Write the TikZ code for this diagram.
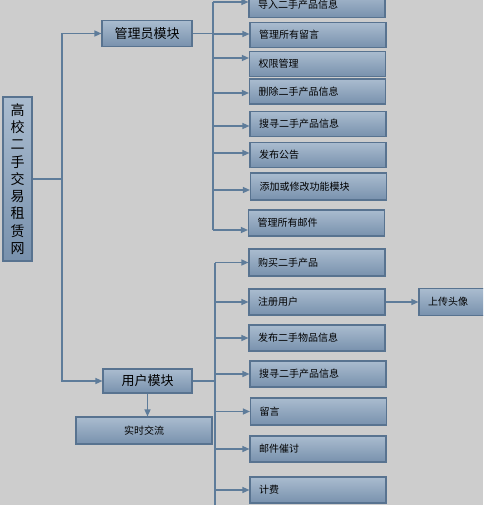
\documentclass[tikz,border=0pt]{standalone}
\usepackage{fontspec}
\setmainfont{Noto Sans CJK SC}
\usetikzlibrary{arrows.meta}
\definecolor{bggray}{HTML}{CDCDCD}
\definecolor{boxtop}{HTML}{AABCCF}
\definecolor{boxbot}{HTML}{7891AD}
\definecolor{boxedge}{HTML}{587390}
\definecolor{linkblue}{HTML}{5E7C9A}

\tikzset{
  box/.style={draw=boxedge, line width=1.1pt, top color=boxtop, bottom color=boxbot, text=black, inner sep=0pt},
  leaf/.style={box, minimum width=136pt, minimum height=25pt, text width=118pt, align=left, font=\fontsize{10}{12}\selectfont},
  module/.style={box, minimum height=26pt, font=\fontsize{13}{15}\selectfont},
  link/.style={linkblue, line width=1.3pt},
  arr/.style={link, -{Triangle[length=7pt, width=6pt]}}
}

\begin{document}
\begin{tikzpicture}[x=1pt, y=-1pt]

% Background
\useasboundingbox (0,0) rectangle (483,505);
\fill[bggray] (0,0) rectangle (483,505);
\clip (0,0) rectangle (483,505);

% Root and the two modules
\node[box, minimum width=29pt, minimum height=164pt, align=center,
      font=\fontsize{14}{17.25}\selectfont] (root) at (17.5,179)
  {高\\校\\二\\手\\交\\易\\租\\赁\\网};
\node[module, minimum width=90pt] (admin) at (147,33.5) {管理员模块};
\node[module, minimum width=89pt, minimum height=24pt] (user) at (147.5,381) {用户模块};
\node[leaf, minimum height=27pt, text width=136pt, align=center] (chat) at (144,430.5) {实时交流};

% Admin functions
\node[leaf] (a1) at (317,5) {导入二手产品信息};
\node[leaf] (a2) at (318,35) {管理所有留言};
\node[leaf] (a3) at (317.5,64) {权限管理};
\node[leaf] (a4) at (317.5,91.5) {删除二手产品信息};
\node[leaf] (a5) at (318,124) {搜寻二手产品信息};
\node[leaf] (a6) at (318,155) {发布公告};
\node[leaf, minimum height=27pt] (a7) at (318.5,186.5) {添加或修改功能模块};
\node[leaf, minimum height=26pt] (a8) at (316.5,223) {管理所有邮件};

% User functions
\node[leaf, minimum height=27pt] (u1) at (317,262.5) {购买二手产品};
\node[leaf, minimum height=26pt] (u2) at (317,302) {注册用户};
\node[leaf, minimum height=26pt] (u3) at (317,338) {发布二手物品信息};
\node[leaf, minimum height=26pt] (u4) at (318,374) {搜寻二手产品信息};
\node[leaf, minimum height=27pt] (u5) at (318.5,411.5) {留言};
\node[leaf, minimum height=26pt] (u6) at (318,449) {邮件催讨};
\node[leaf, minimum height=26pt] (u7) at (318,490) {计费};
\node[leaf, minimum width=66pt, minimum height=27pt, text width=48pt] (avatar) at (452,302) {上传头像};

% Trunks
\coordinate (tr) at (62,0);
\coordinate (atr) at (213,0);
\coordinate (utr) at (215,0);
\coordinate (ubot) at (215,510);

% Root to modules
\draw[link] (root.east) -- (root.east -| tr);
\draw[arr] (root.east -| tr) |- (admin.west);
\draw[arr] (root.east -| tr) |- (user.west);

% Admin module to its functions
\draw[link] (admin.east) -- (admin.east -| atr);
\foreach \n/\s in {a1/3, a2/1, a3/6, a4/-1.5, a5/-2, a6/2, a7/-3.5, a8/-7} {
  \coordinate (\n p) at ([yshift=\s pt]\n.west);
  \draw[arr] (atr |- \n p) -- (\n p);
}
\draw[link] (atr |- a1p) -- (atr |- a8p);

% User module to its functions
\draw[link] (user.east) -- (user.east -| utr);
\draw[link] (utr |- u1.west) -- (ubot);
\foreach \n in {u1,u2,u3,u4,u5,u6,u7}
  \draw[arr] (utr |- \n.west) -- (\n.west);
\draw[arr] (u2.east) -- (avatar.west);
\draw[arr] (user.south) -- (user.south |- chat.north);

\end{tikzpicture}
\end{document}
